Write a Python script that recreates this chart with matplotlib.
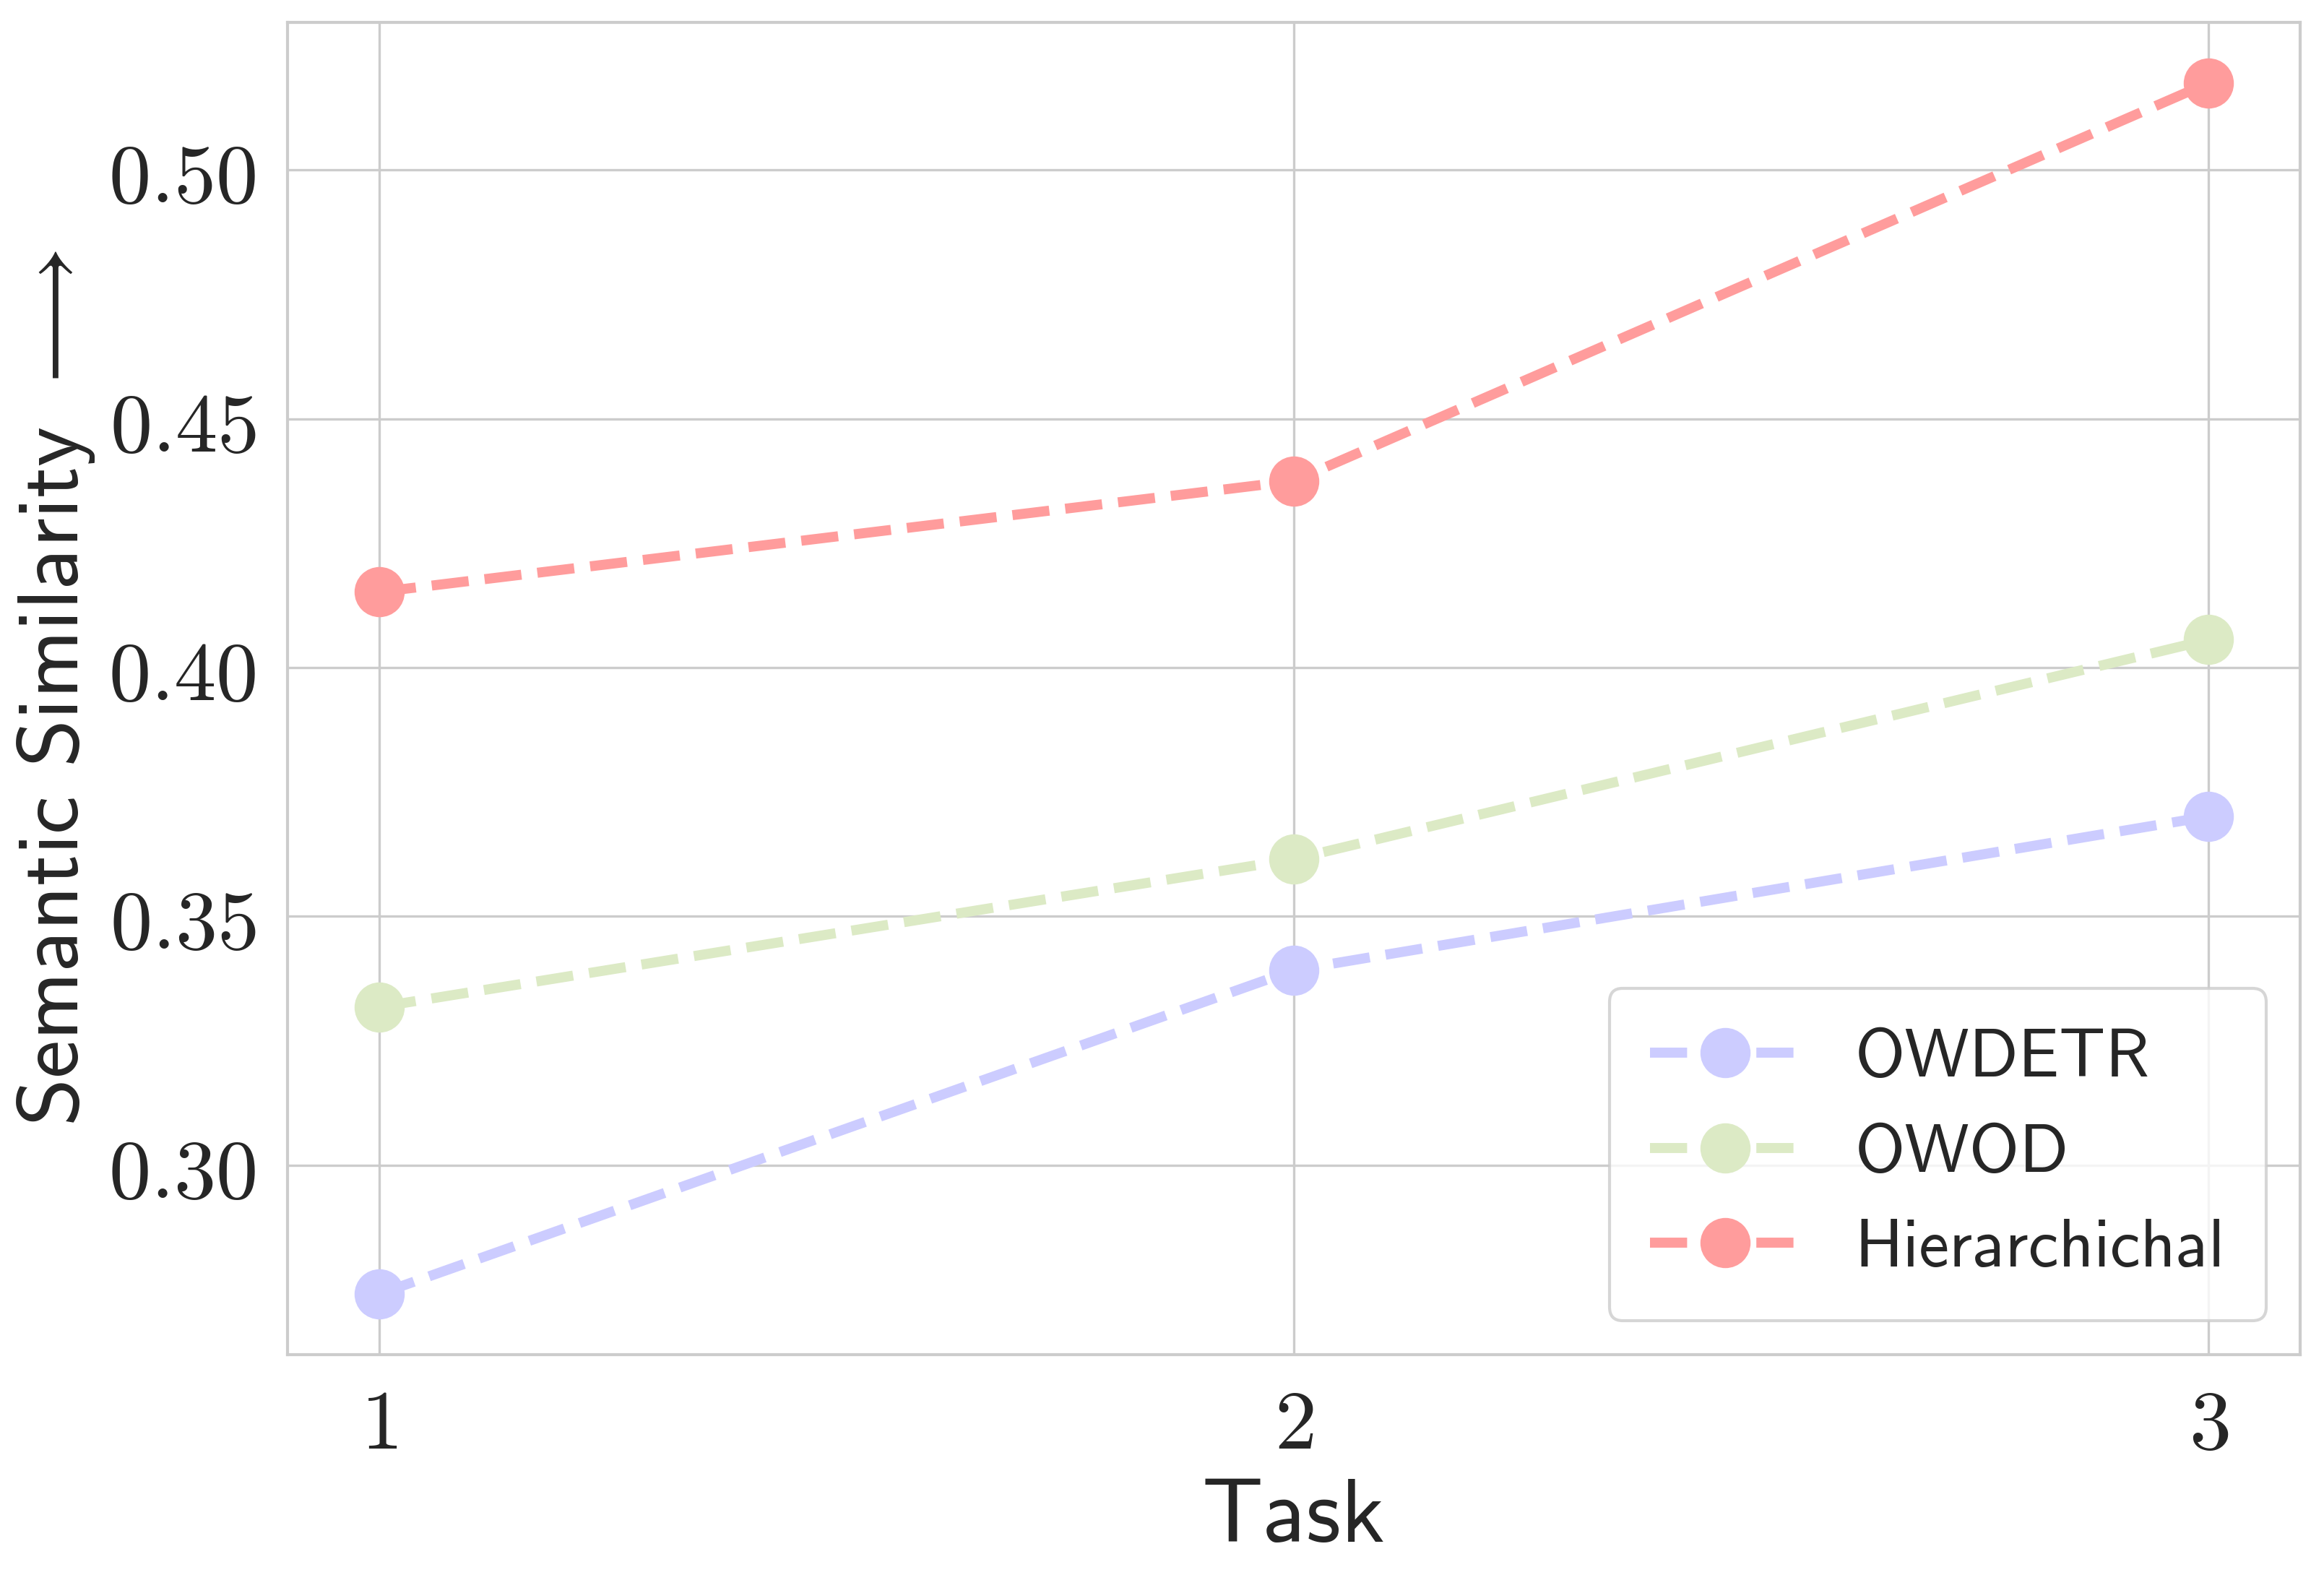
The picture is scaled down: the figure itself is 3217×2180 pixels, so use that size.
import matplotlib
matplotlib.use("Agg")
import matplotlib.pyplot as plt
import seaborn as sns

tasks = [1, 2, 3]
owdetr = [0.2741, 0.3392, 0.3701]
owod = [0.3318, 0.3615, 0.4056]
hierarchichal = [0.4152, 0.4375, 0.5175]
yticks = [0.30, 0.35, 0.40, 0.45, 0.50]

sns.set_style("whitegrid")
plt.rcParams["mathtext.fontset"] = "cm"
plt.rcParams["axes.unicode_minus"] = False

fig = plt.figure(figsize=(16.085, 10.9), dpi=200)
ax = fig.add_axes([0.1237, 0.1399, 0.866, 0.8459])

style = dict(linestyle="--", marker="o", linewidth=5, markersize=24)
ax.plot(tasks, owdetr, color="#ccccff", label="OWDETR", **style)
ax.plot(tasks, owod, color="#dceac5", label="OWOD", **style)
ax.plot(tasks, hierarchichal, color="#ff9c9c", label="Hierarchichal", **style)

ax.set_xticks(tasks)
ax.set_xticklabels([f"${t}$" for t in tasks], fontsize=42)
ax.set_yticks(yticks)
ax.set_yticklabels([f"${v:.2f}$" for v in yticks], fontsize=42)
ax.tick_params(axis="x", pad=11)
ax.tick_params(axis="y", pad=12)

for s in ax.spines.values():
    s.set_color("#cccccc")
    s.set_linewidth(1.5)
ax.grid(color="#cccccc", linewidth=1.2)

ax.set_xlabel("Task", family="cmss10", fontsize=45, labelpad=6)
ax.set_ylabel(r"Semantic Similarity $\longrightarrow$", family="cmss10",
              fontsize=43, labelpad=6)

leg = ax.legend(loc="lower right", prop={"family": "cmss10", "size": 34},
                handlelength=2.2, handletextpad=0.8, labelspacing=0.5,
                borderpad=0.6, framealpha=0.8, edgecolor="#cccccc")
leg.get_frame().set_linewidth(1.5)

fig.savefig("out.png", dpi=200)
